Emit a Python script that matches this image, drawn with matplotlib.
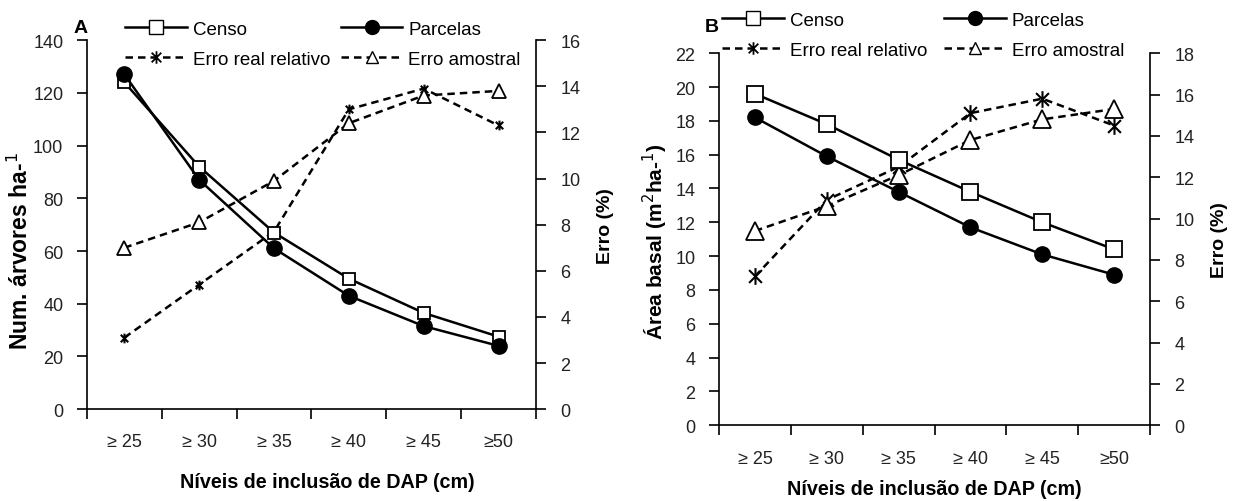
import matplotlib
matplotlib.use("Agg")
import matplotlib.pyplot as plt
from matplotlib.lines import Line2D
from matplotlib.path import Path

plt.rcParams['font.family'] = ['Liberation Sans', 'DejaVu Sans']

categories = ["≥ 25", "≥ 30", "≥ 35", "≥ 40", "≥ 45", "≥50"]

# Panel A - number of trees per ha
a_censo = [124, 92, 67, 49.5, 36.5, 27.5]
a_parcelas = [127, 87, 61, 43, 31.5, 24]
a_erro_real = [3.1, 5.4, 7.7, 13.0, 13.9, 12.3]
a_erro_amostral = [7.0, 8.1, 9.9, 12.4, 13.6, 13.8]

# Panel B - basal area
b_censo = [19.6, 17.8, 15.7, 13.8, 12.0, 10.4]
b_parcelas = [18.2, 15.9, 13.8, 11.7, 10.1, 8.9]
b_erro_real = [7.2, 10.9, 12.5, 15.1, 15.8, 14.5]
b_erro_amostral = [9.4, 10.6, 12.1, 13.8, 14.8, 15.3]

ASTERISK = Path([(-1, -1), (1, 1), (-1, 1), (1, -1), (0, -1.3), (0, 1.3)],
                [Path.MOVETO, Path.LINETO, Path.MOVETO, Path.LINETO, Path.MOVETO, Path.LINETO])

fig = plt.figure(figsize=(12.37, 5.02), dpi=100)

TICK_FS = 13
XLAB_FS = 14.2
LEG_FS = 13.5
TXT = '#222222'


def panel(rect, censo, parc, ereal, eamos, ylim, yticks, y2lim, y2ticks, ylabel, ylab_fs,
          ylab_xy, letter, ms_sq, ms_ci, ms_ast, ms_tri, leg_xy, colsp, letter_xy,
          xlab_xy):
    ax = fig.add_axes(rect)
    x = list(range(len(categories)))
    ax.plot(x, censo, '-', color='black', lw=1.8, marker='s', ms=ms_sq,
            mfc='white', mec='black', mew=1.3, zorder=4)
    ax.plot(x, parc, '-', color='black', lw=1.8, marker='o', ms=ms_ci,
            mfc='black', mec='black', zorder=4)
    ax.set_xlim(-0.5, len(categories) - 0.5)
    ax.set_ylim(*ylim)
    ax.set_yticks(yticks)
    ax.set_xticks([i - 0.5 for i in range(len(categories) + 1)])
    ax.set_xticklabels([])
    ax.set_xticks(x, minor=True)
    ax.set_xticklabels(categories, minor=True)
    ax.tick_params(axis='x', which='major', length=7, width=1.2, direction='out')
    ax.tick_params(axis='x', which='minor', length=0, pad=17.5, labelsize=TICK_FS,
                   labelcolor=TXT)
    ax.tick_params(axis='y', length=7, width=1.2, pad=10, labelsize=TICK_FS, labelcolor=TXT)
    for s in ['top', 'right']:
        ax.spines[s].set_visible(False)
    ax.spines['left'].set_linewidth(1.2)
    ax.spines['bottom'].set_linewidth(1.2)
    ax.set_ylabel(ylabel, fontsize=ylab_fs, fontweight='bold')
    ax.yaxis.set_label_coords(*ylab_xy)
    ax.set_xlabel("Níveis de inclusão de DAP (cm)", fontsize=XLAB_FS, fontweight='bold')
    ax.xaxis.set_label_coords(*xlab_xy)
    ax.patch.set_alpha(0)

    ax2 = ax.twinx()
    ax2.plot(x, ereal, '--', color='black', lw=1.8, marker=ASTERISK, ms=ms_ast,
             mew=1.5, dashes=(3, 2), zorder=3)
    ax2.plot(x, eamos, '--', color='black', lw=1.8, marker='^', ms=ms_tri,
             mfc='white', mec='black', mew=1.3, dashes=(3, 2), zorder=3)
    ax2.set_ylim(*y2lim)
    ax2.set_yticks(y2ticks)
    ax2.tick_params(axis='y', length=7, width=1.2, pad=10.5, labelsize=TICK_FS, labelcolor=TXT)
    for s in ['top', 'left', 'bottom']:
        ax2.spines[s].set_visible(False)
    ax2.spines['right'].set_linewidth(1.2)
    ax2.set_ylabel("Erro (%)", fontsize=14, fontweight='bold', labelpad=12)
    ax.set_zorder(ax2.get_zorder() + 1)

    handles = [
        Line2D([], [], color='black', lw=1.8, marker='s', ms=10, mfc='white', mec='black'),
        Line2D([], [], color='black', lw=1.8, ls='--', dashes=(3, 2), marker=ASTERISK, ms=9,
               mew=1.3),
        Line2D([], [], color='black', lw=1.8, marker='o', ms=10, mfc='black'),
        Line2D([], [], color='black', lw=1.8, ls='--', dashes=(3, 2), marker='^', ms=9,
               mfc='white', mec='black'),
    ]
    labels = ["Censo", "Erro real relativo", "Parcelas", "Erro amostral"]
    fig.legend(handles, labels, loc='upper left',
               bbox_to_anchor=leg_xy, ncol=2, frameon=False,
               fontsize=LEG_FS, handlelength=3.3, handletextpad=0.32,
               columnspacing=colsp, labelspacing=0.68, borderaxespad=0)
    fig.text(letter_xy[0], letter_xy[1], letter, fontsize=14, fontweight='bold',
             ha='center', va='center')
    return ax, ax2


panel([0.0703, 0.183, 0.3630, 0.735], a_censo, a_parcelas, a_erro_real, a_erro_amostral,
      (0, 140), range(0, 141, 20), (0, 16), range(0, 17, 2),
      "Num. árvores ha-$^{1}$", 16.5, (-0.12, 0.43), "A", 9, 11, 7, 10.5,
      (0.095, 0.972), 0.55, (0.0655, 0.944), (0.535, -0.171))

panel([0.5813, 0.151, 0.3484, 0.741], b_censo, b_parcelas, b_erro_real, b_erro_amostral,
      (0, 22), range(0, 23, 2), (0, 18), range(0, 19, 2),
      "Área basal (m$^{2}$ha-$^{1}$)", 15, (-0.114, 0.495), "B", 11, 11, 12, 12.5,
      (0.5776, 0.990), 0.9, (0.5756, 0.946), (0.5, -0.145))

fig.savefig("out.png", dpi=100)
